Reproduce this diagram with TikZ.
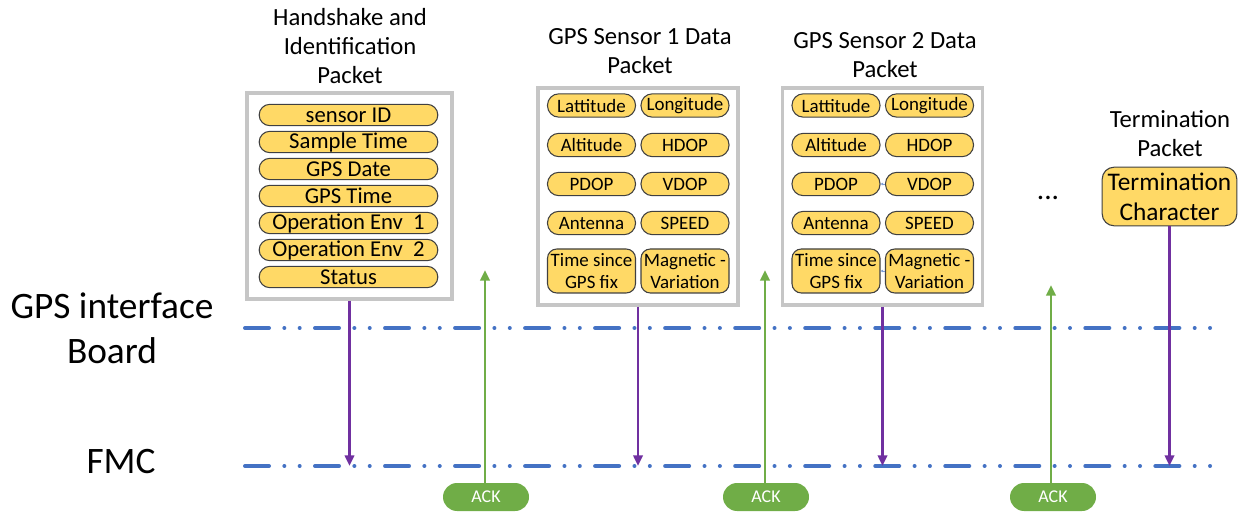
\documentclass[tikz,border=0pt]{standalone}
\usepackage{fontspec}
\setmainfont{Carlito}
\usetikzlibrary{arrows.meta}
\definecolor{fieldyellow}{HTML}{FFD966}
\definecolor{busblue}{HTML}{4472C4}
\definecolor{sendpurple}{HTML}{7030A0}
\definecolor{ackgreen}{HTML}{70AD47}
\begin{document}
\begin{tikzpicture}[x=0.75pt, y=-0.75pt, >={Triangle[length=8pt,width=7pt]},
  field/.style={draw=black!75, line width=0.8pt, fill=fieldyellow, inner sep=0pt, align=center},
  idfield/.style={field, minimum width=134pt, minimum height=16pt, rounded corners=8pt,
    font=\fontsize{17}{18}\selectfont},
  gpsfield/.style={field, minimum width=66pt, minimum height=17.5pt, rounded corners=8.5pt,
    font=\fontsize{14.2}{16.5}\selectfont},
  tallfield/.style={gpsfield, minimum height=33pt, rounded corners=7pt},
  frame/.style={draw=gray!45, line width=2.4pt, inner sep=0pt},
  title/.style={align=center, font=\fontsize{18.5}{22}\selectfont},
  side/.style={align=center, font=\fontsize{28}{34}\selectfont},
  ackpill/.style={fill=ackgreen, text=white, minimum width=64.5pt, minimum height=21pt,
    rounded corners=10.5pt, inner sep=0pt, font=\fontsize{13.5}{14}\selectfont},
  busline/.style={busblue, line width=3pt, line cap=round,
    dash pattern=on 18pt off 11.5pt on 0.01pt off 11.5pt on 0.01pt off 11.5pt},
  sendarrow/.style={->, sendpurple, line width=1.9pt},
  ackarrow/.style={->, ackgreen, line width=2.1pt},
  tinyarrow/.style={-{Triangle[length=2pt,width=2pt]}, busblue!70, line width=0.4pt}]
  \useasboundingbox (0,0) rectangle (1242,513);
  % side labels
  \node[side] (board) at (112,328) {GPS interface\\Board};
  \node[side] (fmc) at (121,462) {FMC};
  % bus lines
  \coordinate (boardL) at (245,328);
  \coordinate (boardR) at (1225,328);
  \coordinate (fmcL) at (245,466);
  \coordinate (fmcR) at (1225,466);
  \draw[busline] (boardL) -- (boardR);
  \draw[busline] (fmcL) -- (fmcR);
  % handshake packet
  \node[title] (idtitle) at (350,46) {Handshake and\\Identification\\Packet};
  \node[frame, minimum width=153.75pt, minimum height=154.5pt] (idpacket) at (349.5,196) {};
  \foreach \txt [count=\i] in {sensor ID, Sample Time, GPS Date, GPS Time,
      Operation Env~~1, Operation Env~~2, Status}
    \node[idfield] (id\i) at (348.5,{115+27*(\i-1)}) {\txt};
  % gps sensor packets
  \foreach \s/\xa/\xb/\xt in {1/591.5/685/640, 2/836/929.5/885} {
    \node[title] (gpstitle\s) at (\xt,{47+4*\s}) {GPS Sensor \s{} Data\\Packet};
    \node[frame, minimum width=150pt, minimum height=162.75pt] (gps\s) at ({\xa+46.5},196.5) {};
    \node[gpsfield] (lat\s) at (\xa,105.5) {Lattitude};
    \node[gpsfield] (lon\s) at (\xb,105.5) {Longitude};
    \node[gpsfield] (alt\s) at (\xa,145) {Altitude};
    \node[gpsfield] (hdop\s) at (\xb,145) {HDOP};
    \node[gpsfield] (pdop\s) at (\xa,184) {PDOP};
    \node[gpsfield] (vdop\s) at (\xb,184) {VDOP};
    \node[gpsfield] (ant\s) at (\xa,223) {Antenna};
    \node[gpsfield] (speed\s) at (\xb,223) {SPEED};
    \node[tallfield] (fix\s) at (\xa,271) {Time since\\GPS fix};
    \node[tallfield] (mag\s) at (\xb,271) {Magnetic -\\Variation};
  }
  \draw[tinyarrow] (vdop2.west) -- (pdop2.east);
  \draw[tinyarrow] (mag2.west) -- (fix2.east);
  % more packets
  \node[font=\fontsize{22}{24}\selectfont] (more) at (1048,198) {...};
  % termination packet
  \node[title] (endtitle) at (1170,133.5) {Termination\\Packet};
  \node[field, minimum width=101pt, minimum height=44pt, rounded corners=9pt,
    font=\fontsize{19}{22.5}\selectfont] (endchar) at (1169.5,196.5) {Termination\\Character};
  % packets sent to FMC
  \draw[sendarrow] (idpacket.south) -- (idpacket.south |- fmcL);
  \draw[sendarrow] (gps1.south) -- (gps1.south |- fmcL);
  \draw[sendarrow] (gps2.south) -- (gps2.south |- fmcL);
  \draw[sendarrow] (endchar.south) -- (endchar.south |- fmcL);
  % acknowledgements
  \node[ackpill] (ack1) at (486,497) {ACK};
  \node[ackpill] (ack2) at (766,497) {ACK};
  \node[ackpill] (ack3) at (1053,497) {ACK};
  \coordinate (ackend1) at (485,270);
  \coordinate (ackend2) at (765,270);
  \coordinate (ackend3) at (1051,285);
  \draw[ackarrow] (ack1.north -| ackend1) -- (ackend1);
  \draw[ackarrow] (ack2.north -| ackend2) -- (ackend2);
  \draw[ackarrow] (ack3.north -| ackend3) -- (ackend3);
\end{tikzpicture}
\end{document}
